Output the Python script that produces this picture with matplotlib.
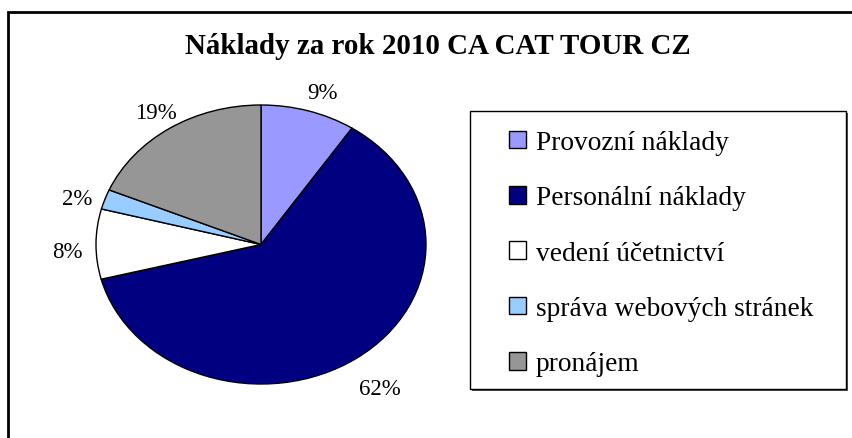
import matplotlib.pyplot as plt
from matplotlib.patches import Patch, Rectangle
from matplotlib.transforms import offset_copy

# podíly nákladů v %
categories = ['Provozní náklady', 'Personální náklady', 'vedení účetnictví',
              'správa webových stránek', 'pronájem']
values = [9.3, 61.7, 8.1, 2.3, 18.6]
colors = ['#9999FF', '#000080', '#FFFFFF', '#99CCFF', '#969696']
pct_labels = ['%d%%' % round(v) for v in values]

W, H = 853, 439
serif = 'Liberation Serif'

fig = plt.figure(figsize=(W / 100, H / 100), dpi=100)

# pie stretched a bit horizontally like in the original
ax = fig.add_axes([96 / W, 54 / H, 330 / W, 279 / H])
wedges, texts = ax.pie(values, colors=colors, startangle=90, counterclock=False,
                       labels=pct_labels, labeldistance=1.2,
                       wedgeprops=dict(edgecolor='black', linewidth=1),
                       textprops=dict(fontsize=16.5, family=serif))
ax.set_aspect('auto')
ax.set_xlim(-1, 1)
ax.set_ylim(-1, 1)
lab_tr = offset_copy(ax.transData, fig=fig, x=4, y=-8, units='dots')
for t in texts:
    t.set_ha('center')
    t.set_va('center')
    t.set_transform(lab_tr)
    t.set_clip_on(False)

fig.text(438 / W, 1 - 47 / H, 'Náklady za rok 2010 CA CAT TOUR CZ',
         ha='center', va='center', fontsize=20.9, weight='bold', family=serif)

# outer chart frame (goes past the right and bottom edge)
fig.add_artist(Rectangle((8 / W, -0.1), 1.2, 1 - 13 / H + 0.1, transform=fig.transFigure,
                         fill=False, edgecolor='black', linewidth=2, clip_on=False))

# legend box + small shadow
fig.add_artist(Rectangle((472 / W, 1 - 392 / H), 376 / W, 278 / H, transform=fig.transFigure,
                         facecolor='#555555', edgecolor='none'))
fig.add_artist(Rectangle((470 / W, 1 - 390 / H), 376 / W, 278 / H, transform=fig.transFigure,
                         facecolor='white', edgecolor='black', linewidth=1))

handles = [Patch(facecolor=c, edgecolor='black', linewidth=1) for c in colors]
fig.legend(handles, categories, loc='upper left', bbox_to_anchor=(509 / W, 1 - 131 / H),
           frameon=False, prop=dict(family=serif, size=19.7), handlelength=0.62,
           handleheight=0.62, handletextpad=0.37, labelspacing=1.11,
           borderpad=0, borderaxespad=0)

fig.savefig('out.png', dpi=100)
